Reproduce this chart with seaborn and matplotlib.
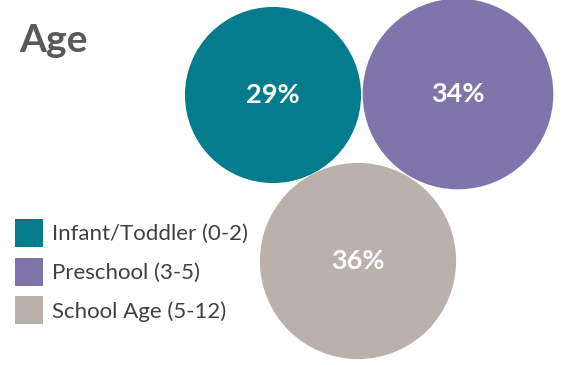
import numpy as np
import pandas as pd
import matplotlib.pyplot as plt
import seaborn as sns
from matplotlib.patches import Patch

categories = ['Infant/Toddler (0-2)', 'Preschool (3-5)', 'School Age (5-12)']
values = [29, 34, 36]
colors = ['#047C8B', '#8075AA', '#BAB1AC']

# bubble layout in pixel space (x right, y down)
center_x = [273, 458, 358]
center_y = [95, 94, 261]

sns.set_theme(style='white')
plt.rcParams['font.family'] = ['Lato', 'DejaVu Sans']

dpi = 100
fig = plt.figure(figsize=(5.63, 3.65), dpi=dpi)
ax = fig.add_axes([0, 0, 1, 1])

data = pd.DataFrame({'cat': categories, 'val': values, 'x': center_x, 'y': center_y})

# radius in px proportional to sqrt(value), converted to marker area in pt^2
k = 16.35
radius_px = k * np.sqrt(data['val'])
marker_area = (2 * radius_px * 72 / dpi) ** 2

sns.scatterplot(data=data, x='x', y='y', hue='cat', palette=colors,
                s=marker_area, linewidth=0, alpha=1, legend=False, ax=ax)

for _, row in data.iterrows():
    ax.text(row['x'], row['y'], f"{row['val']}%", color='white', fontsize=19.5,
            fontweight='bold', ha='center', va='center')

ax.set_xlim(0, 563)
ax.set_ylim(365, 0)
ax.set_axis_off()

fig.text(19 / 563, 1 - 52 / 365, 'Age', fontsize=28, fontweight='bold',
         color='#595959', ha='left', va='baseline')

handles = [Patch(facecolor=c, edgecolor='none') for c in colors]
fig.legend(handles, categories, loc='upper left',
           bbox_to_anchor=(15 / 563, 1 - 219 / 365), frameon=False,
           fontsize=16, labelcolor='#404040', handlelength=1.26,
           handleheight=1.56, handletextpad=0.42, labelspacing=0.48,
           borderpad=0, borderaxespad=0)

fig.savefig('out.png', dpi=dpi)
